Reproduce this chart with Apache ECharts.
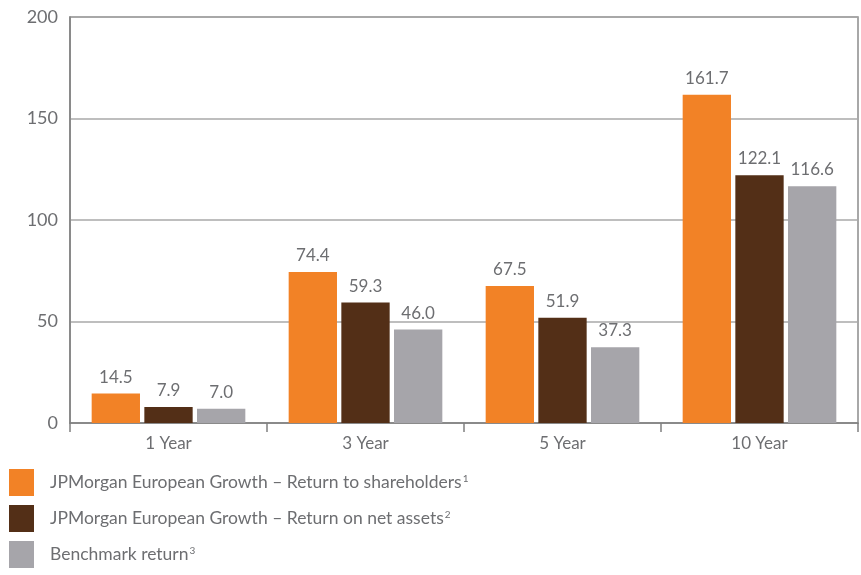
<!DOCTYPE html>
<html><head><meta charset="utf-8">
<script src="https://cdn.jsdelivr.net/npm/echarts@6/dist/echarts.min.js"></script>
<style>html,body{margin:0;padding:0;background:#fff}#c{width:861px;height:575px}</style>
</head><body><div id="c"></div>
<script>
const categories = ['1 Year', '3 Year', '5 Year', '10 Year'];
const seriesNames = [
  'JPMorgan European Growth – Return to shareholders',
  'JPMorgan European Growth – Return on net assets',
  'Benchmark return'
];
const footnotes = ['1', '2', '3'];
const shareholders = [14.5, 74.4, 67.5, 161.7];
const netAssets = [7.9, 59.3, 51.9, 122.1];
const benchmark = [7.0, 46.0, 37.3, 116.6];
const yTicks = [0, 50, 100, 150, 200];

const colors = ['#F28226', '#532F17', '#A6A5AA'];
const textColor = '#6D6E71';
const font = 'Lato, "Open Sans", sans-serif';
const chart = echarts.init(document.getElementById('c'));
const data = [shareholders, netAssets, benchmark];
chart.setOption({
  animation: false,
  textStyle: { fontFamily: font },
  grid: { left: 70, right: 3, top: 17, bottom: 152, show: true, borderColor: '#8C8C8C', borderWidth: 1.5 },
  xAxis: {
    type: 'category', data: categories,
    axisLine: { lineStyle: { color: '#808080', width: 1.5 } },
    axisTick: { show: true, length: 9, lineStyle: { color: '#808080', width: 1.5 } },
    axisLabel: { color: textColor, fontSize: 17, margin: 12, fontFamily: font }
  },
  yAxis: {
    type: 'value', min: yTicks[0], max: yTicks[yTicks.length - 1], interval: 50,
    axisLine: { show: true, lineStyle: { color: '#808080', width: 1.5 } },
    axisTick: { show: false },
    axisLabel: { color: textColor, fontSize: 18, margin: 12, fontFamily: font },
    splitLine: { lineStyle: { color: '#A8A8A8', width: 1.5 } }
  },
  legend: {
    orient: 'vertical', left: 9, top: 469, height: 140, itemWidth: 25, itemHeight: 27, itemGap: 9,
    padding: 0,
    icon: 'rect',
    data: seriesNames,
    formatter: function (name) {
      const i = seriesNames.indexOf(name);
      return '{t|' + name + '}{s|' + footnotes[i] + '}';
    },
    textStyle: {
      color: textColor, padding: [0, 0, 0, 11],
      rich: {
        t: { fontSize: 17.5, color: textColor, fontFamily: font },
        s: { fontSize: 10, color: textColor, fontFamily: font, verticalAlign: 'top', padding: [0, 0, 8, 1] }
      }
    }
  },
  series: seriesNames.map((n, i) => ({
    name: n, type: 'bar', data: data[i],
    itemStyle: { color: colors[i] },
    barGap: '9%', barCategoryGap: '22%',
    label: { show: true, position: 'top', distance: 8, color: textColor, fontSize: 17, fontFamily: font,
      formatter: p => p.value.toFixed(1) }
  }))
});
</script></body></html>
